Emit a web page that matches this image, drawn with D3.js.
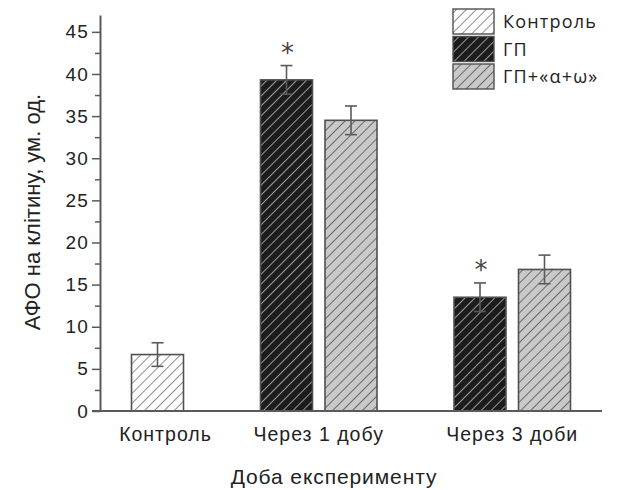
<!DOCTYPE html>
<html><head><meta charset="utf-8">
<script src="https://cdn.jsdelivr.net/npm/d3@7"></script>
<style>body{margin:0;background:#fff}svg{display:block}</style>
</head><body>
<svg id="chart" width="617" height="490"></svg>
<script>
const categories = ["Контроль", "Через 1 добу", "Через 3 доби"];
const seriesNames = ["Контроль", "ГП", "ГП+«α+ω»"];
const controlValues = [6.7, null, null];
const controlErrors = [1.4, null, null];
const gpValues = [null, 39.3, 13.5];
const gpErrors = [null, 1.7, 1.7];
const gpAwValues = [null, 34.5, 16.8];
const gpAwErrors = [null, 1.7, 1.7];
const significant = [null, true, true];
const yTicks = [0, 5, 10, 15, 20, 25, 30, 35, 40, 45];
const yMinorTicks = [2.5, 7.5, 12.5, 17.5, 22.5, 27.5, 32.5, 37.5, 42.5];
const yTitle = "АФО на клітину, ум. од.";
const xTitle = "Доба експерименту";

const svg = d3.select("#chart");
const styles = [
  {fill: "#ffffff", line: "#8f8f8f"},
  {fill: "#1c1c1c", line: "#9a9a9a"},
  {fill: "#c9c9c9", line: "#6a6a6a"}
];
const defs = svg.append("defs");
styles.forEach((s, i) => {
  const p = defs.append("pattern").attr("id", "hatch" + i)
    .attr("patternUnits", "userSpaceOnUse").attr("width", 7).attr("height", 7)
    .attr("patternTransform", "rotate(45)");
  p.append("rect").attr("width", 7).attr("height", 7).attr("fill", s.fill);
  p.append("line").attr("x1", 0).attr("y1", 0).attr("x2", 0).attr("y2", 7)
    .attr("stroke", s.line).attr("stroke-width", 2);
});

const y = d3.scaleLinear().domain([0, 47]).range([411, 15]);
const slots = [];
const seriesVals = [controlValues, gpValues, gpAwValues];
const seriesErrs = [controlErrors, gpErrors, gpAwErrors];
categories.forEach((c, ci) => {
  if (ci > 0) slots.push("gap" + ci);
  seriesVals.forEach((vals, si) => { if (vals[ci] != null) slots.push(c + "|" + si); });
});
const x = d3.scalePoint().domain(slots).range([157.5, 544.5]);
const barW = 52;

const bars = [];
categories.forEach((c, ci) => {
  seriesVals.forEach((vals, si) => {
    if (vals[ci] != null) bars.push({c, ci, si, v: vals[ci], e: seriesErrs[si][ci]});
  });
});

const axisColor = "#5a5a5a";
const sans = "Liberation Sans, Arial, sans-serif";
const yAxis = svg.append("g").attr("transform", "translate(100,0)")
  .call(d3.axisLeft(y).tickValues(yTicks).tickSize(8).tickSizeOuter(0));
yAxis.select(".domain").attr("stroke", axisColor).attr("stroke-width", 2);
yAxis.selectAll(".tick line").attr("stroke", axisColor).attr("stroke-width", 1.5);
yAxis.selectAll(".tick text").attr("font-family", sans)
  .attr("font-size", 19).attr("letter-spacing", 1.2).attr("fill", "#222").attr("x", -11);
const yMinor = svg.append("g").attr("transform", "translate(100,0)")
  .call(d3.axisLeft(y).tickValues(yMinorTicks).tickSize(5).tickFormat(""));
yMinor.select(".domain").remove();
yMinor.selectAll(".tick line").attr("stroke", axisColor).attr("stroke-width", 1.5);

svg.append("g").selectAll("rect").data(bars).join("rect")
  .attr("x", d => x(d.c + "|" + d.si) - barW / 2)
  .attr("y", d => y(d.v))
  .attr("width", barW)
  .attr("height", d => y(0) - y(d.v))
  .attr("fill", d => "url(#hatch" + d.si + ")")
  .attr("stroke", "#505050").attr("stroke-width", 1.6);

svg.append("line").attr("x1", 92).attr("x2", 602).attr("y1", y(0)).attr("y2", y(0))
  .attr("stroke", axisColor).attr("stroke-width", 2);

const eg = svg.append("g").attr("stroke", "#5a5a5a").attr("stroke-width", 1.6).attr("fill", "none");
bars.forEach(d => {
  const cx = x(d.c + "|" + d.si);
  eg.append("line").attr("x1", cx).attr("x2", cx).attr("y1", y(d.v + d.e)).attr("y2", y(d.v - d.e));
  eg.append("line").attr("x1", cx - 6).attr("x2", cx + 6).attr("y1", y(d.v + d.e)).attr("y2", y(d.v + d.e));
  eg.append("line").attr("x1", cx - 6).attr("x2", cx + 6).attr("y1", y(d.v - d.e)).attr("y2", y(d.v - d.e));
});

bars.filter(d => d.si === 1 && significant[d.ci]).forEach(d => {
  svg.append("text").attr("x", x(d.c + "|" + d.si) + 1).attr("y", y(d.v + d.e) - 4)
    .attr("text-anchor", "middle").attr("font-family", "DejaVu Sans, sans-serif")
    .attr("font-size", 26).attr("fill", "#444").text("*");
});

categories.forEach((c, ci) => {
  const keys = slots.filter(k => k.startsWith(c + "|"));
  const cx = d3.mean(keys, k => x(k));
  svg.append("text").attr("x", cx + (ci === 0 ? 8 : 0)).attr("y", 441).attr("text-anchor", "middle")
    .attr("font-family", sans).attr("font-size", 19.5).attr("letter-spacing", 1)
    .attr("fill", "#222").text(c);
});

svg.append("text").attr("x", 334).attr("y", 484).attr("text-anchor", "middle")
  .attr("font-family", sans).attr("font-size", 21).attr("letter-spacing", 0.9)
  .attr("fill", "#222").text(xTitle);
svg.append("text").attr("transform", "translate(40,212) rotate(-90)").attr("text-anchor", "middle")
  .attr("font-family", sans).attr("font-size", 22).attr("fill", "#222").text(yTitle);

const lg = svg.append("g");
seriesNames.forEach((n, i) => {
  const yy = 9 + i * 27.5;
  lg.append("rect").attr("x", 453).attr("y", yy).attr("width", 41).attr("height", 25)
    .attr("fill", "url(#hatch" + i + ")").attr("stroke", "#505050").attr("stroke-width", 1.4);
  lg.append("text").attr("x", 503).attr("y", yy + 19).attr("font-family", "Open Sans, sans-serif")
    .attr("font-size", 18).attr("letter-spacing", 1.2).attr("fill", "#222").text(n);
});
</script>
</body></html>
